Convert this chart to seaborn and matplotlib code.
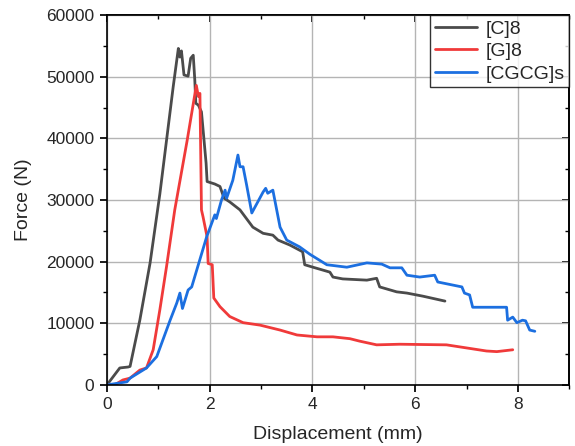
import numpy as np
import pandas as pd
import matplotlib
matplotlib.use("Agg")
import matplotlib.pyplot as plt
import seaborn as sns
from matplotlib.ticker import MultipleLocator

# [C]8
c8_x = [0, 0.25, 0.41, 0.45, 0.64, 0.84, 1.03, 1.29, 1.39, 1.42, 1.45, 1.50, 1.58, 1.63, 1.68,
        1.71, 1.73, 1.78, 1.84, 1.89, 1.93, 1.95, 2.10, 2.20, 2.28, 2.39, 2.59, 2.84, 3.04, 3.23,
        3.33, 3.56, 3.81, 3.85, 4.01, 4.34, 4.40, 4.59, 5.06, 5.25, 5.31, 5.64, 5.84, 6.15, 6.58]
c8_y = [0, 2750, 2900, 3000, 10500, 19800, 31000, 48400, 54600, 53200, 54200, 50300, 50100, 53000, 53500,
        49500, 45700, 45400, 44300, 39700, 36000, 33000, 32600, 32200, 30300, 29700, 28400, 25600, 24600, 24300,
        23500, 22700, 21600, 19500, 19100, 18300, 17500, 17200, 17000, 17300, 15900, 15100, 14900, 14400, 13600]

# [G]8
g8_x = [0, 0.15, 0.31, 0.45, 0.64, 0.77, 0.90, 1.03, 1.16, 1.32, 1.56, 1.74, 1.78, 1.81,
        1.84, 1.87, 1.95, 1.97, 2.05, 2.08, 2.20, 2.39, 2.65, 2.98, 3.37, 3.70, 4.09, 4.40,
        4.73, 4.92, 5.25, 5.70, 6.61, 7.00, 7.39, 7.59, 7.90]
g8_y = [0, 0, 800, 1100, 2400, 2750, 5700, 12200, 19200, 28400, 39600, 48600, 46800, 47300,
        28400, 27300, 24000, 19700, 19500, 14100, 12700, 11100, 10100, 9700, 8900, 8100, 7800, 7800,
        7500, 7100, 6500, 6600, 6500, 6000, 5500, 5400, 5700]

# [CGCG]s
cgcg_x = [0, 0.39, 0.45, 0.77, 0.97, 1.23, 1.36, 1.42, 1.47, 1.58, 1.65, 1.94, 2.10, 2.13, 2.23,
          2.30, 2.33, 2.45, 2.55, 2.59, 2.65, 2.72, 2.82, 3.04, 3.09, 3.13, 3.23, 3.37, 3.50, 3.75,
          3.95, 4.28, 4.67, 5.06, 5.35, 5.51, 5.74, 5.84, 6.09, 6.38, 6.44, 6.91, 6.96, 7.06, 7.12,
          7.45, 7.78, 7.80, 7.90, 7.98, 8.09, 8.15, 8.23, 8.33]
cgcg_y = [0, 500, 1100, 2750, 4600, 10500, 13300, 14900, 12400, 15400, 15900, 24000, 27600, 27000, 30000,
          31600, 30300, 33200, 37300, 35400, 35400, 32400, 27900, 31300, 31900, 31100, 31600, 25600, 23500, 22400,
          21200, 19500, 19100, 19800, 19600, 19000, 19000, 17800, 17500, 17800, 16700, 15900, 14900, 14600, 12600,
          12600, 12600, 10500, 11000, 10100, 10500, 10400, 8900, 8700]

labels = ["[C]8", "[G]8", "[CGCG]s"]
colors = ["#4b4b4b", "#f03a3a", "#1c6fe0"]

df = pd.concat([
    pd.DataFrame({"x": c8_x, "y": c8_y, "s": labels[0]}),
    pd.DataFrame({"x": g8_x, "y": g8_y, "s": labels[1]}),
    pd.DataFrame({"x": cgcg_x, "y": cgcg_y, "s": labels[2]}),
])

sns.set_theme(style="ticks")
plt.rcParams["font.family"] = ["Liberation Sans", "DejaVu Sans"]

fig = plt.figure(figsize=(5.75, 4.46), dpi=100)
ax = fig.add_axes([0.186, 0.137, 0.804, 0.829])

sns.lineplot(data=df, x="x", y="y", hue="s", palette=dict(zip(labels, colors)),
             sort=False, estimator=None, linewidth=2, ax=ax)

ax.set_xlim(0, 9)
ax.set_ylim(0, 60000)
ax.xaxis.set_major_locator(MultipleLocator(2))
ax.xaxis.set_minor_locator(MultipleLocator(1))
ax.yaxis.set_major_locator(MultipleLocator(10000))
ax.yaxis.set_minor_locator(MultipleLocator(5000))
ax.grid(True, which="major", color="#b4b4b4", linewidth=1)
ax.tick_params(which="both", direction="out", labelsize=12.5, color="black", pad=4)
ax.tick_params(which="major", length=5)
ax.tick_params(which="minor", length=3)

# inward ticks on top and right, no labels
secx = ax.secondary_xaxis("top")
secx.xaxis.set_major_locator(MultipleLocator(2))
secx.xaxis.set_minor_locator(MultipleLocator(1))
secx.tick_params(which="both", direction="in", labeltop=False, color="black")
secx.tick_params(which="major", length=5)
secx.tick_params(which="minor", length=3)
secy = ax.secondary_yaxis("right")
secy.yaxis.set_major_locator(MultipleLocator(10000))
secy.yaxis.set_minor_locator(MultipleLocator(5000))
secy.tick_params(which="both", direction="in", labelright=False, color="black")
secy.tick_params(which="major", length=5)
secy.tick_params(which="minor", length=3)

for a in [ax, secx, secy]:
    for sp in a.spines.values():
        sp.set_color("black")
        sp.set_linewidth(1.2)

ax.set_xlabel("Displacement (mm)", fontsize=14, labelpad=10)
ax.set_ylabel("Force (N)", fontsize=14, labelpad=10)

leg = ax.legend(loc="upper right", fontsize=14, frameon=True, fancybox=False,
                borderaxespad=0, handlelength=2.2, handletextpad=0.4, borderpad=0.25, labelspacing=0.25)
leg.get_frame().set_edgecolor("black")
leg.get_frame().set_linewidth(1)

fig.savefig("out.png", dpi=100)
